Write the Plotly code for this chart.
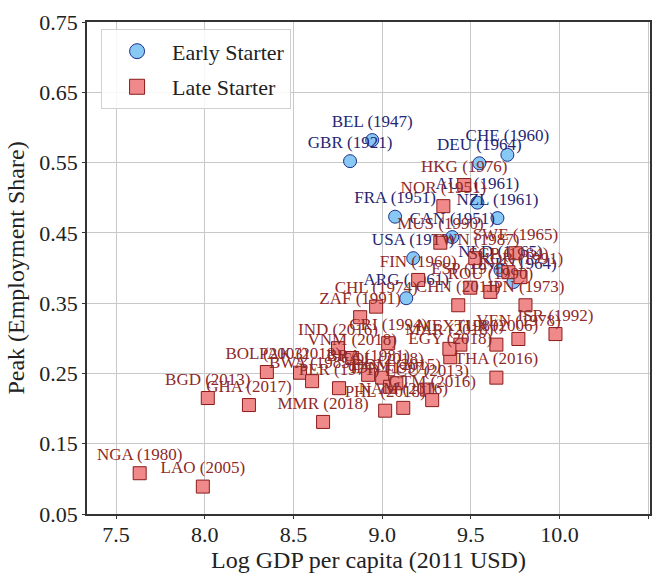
import plotly.graph_objects as go

# Early starters (blue circles)
early_labels = ["BEL (1947)", "GBR (1921)", "CHE (1960)", "DEU (1964)", "AUS (1961)", "NZL (1961)",
                "FRA (1951)", "CAN (1951)", "USA (1910)", "ARG (1961)", "NLD (1965)", "DNK (1964)"]
early_x = [8.944, 8.819, 9.706, 9.548, 9.537, 9.650, 9.073, 9.395, 9.175, 9.136, 9.667, 9.740]
early_y = [0.582, 0.552, 0.561, 0.549, 0.493, 0.471, 0.473, 0.444, 0.414, 0.357, 0.397, 0.380]

# Late starters (red squares)
late_labels = ["HKG (1976)", "NOR (1951)", "MUS (1990)", "TWN (1987)", "SWE (1965)", "SGP (1984)",
               "KOR (1991)", "FIN (1960)", "ESP (1975)", "ROU (1990)", "CHN (2011)", "JPN (1973)",
               "CHL (1974)", "ZAF (1991)", "CRI (1994)", "IND (2016)", "VNM (2018)", "MEX (1980)",
               "EGY (2018)", "MAR (2018)", "TUR (2006)", "VEN (1978)", "ISR (1992)", "THA (2016)",
               "BOL (2003)", "PAK (2018)", "BWA (1985)", "PER (1971)", "BRA (1981)", "COL (2018)",
               "IDN (1997)", "DOM (2015)", "ECU (2013)", "GTM (2016)", "PHL (2018)", "NAM (2016)",
               "MMR (2018)", "BGD (2013)", "GHA (2017)", "NGA (1980)", "LAO (2005)"]
late_x = [9.463, 9.345, 9.328, 9.525, 9.751, 9.712, 9.780, 9.203, 9.497, 9.610, 9.429, 9.808,
          8.966, 8.876, 9.034, 8.751, 8.831, 9.441, 9.384, 9.379, 9.644, 9.768, 9.977, 9.644,
          8.350, 8.537, 8.605, 8.757, 8.921, 9.000, 9.045, 9.080, 9.254, 9.282, 9.017, 9.119,
          8.667, 8.017, 8.249, 7.633, 7.989]
late_y = [0.518, 0.488, 0.436, 0.414, 0.421, 0.394, 0.387, 0.383, 0.372, 0.366, 0.347, 0.347,
          0.345, 0.330, 0.293, 0.286, 0.272, 0.291, 0.273, 0.285, 0.291, 0.299, 0.306, 0.244,
          0.252, 0.251, 0.239, 0.229, 0.248, 0.244, 0.231, 0.236, 0.227, 0.212, 0.197, 0.201,
          0.181, 0.215, 0.205, 0.108, 0.089]

x_ticks = [7.5, 8.0, 8.5, 9.0, 9.5, 10.0, 10.5]
y_ticks = [0.05, 0.15, 0.25, 0.35, 0.45, 0.55, 0.65, 0.75]

FONT = "'Liberation Serif', 'Times New Roman', 'DejaVu Serif', serif"
BLUE_FILL, BLUE_EDGE, BLUE_TXT = "#87c8f5", "#1c2f8a", "#262673"
RED_FILL, RED_EDGE, RED_TXT = "#f08a8a", "#8b1a1a", "#8e2a2a"

fig = go.Figure()

fig.add_trace(go.Scatter(
    x=early_x, y=early_y, mode="markers+text", text=early_labels,
    textposition="top center", textfont=dict(family=FONT, size=17, color=BLUE_TXT),
    marker=dict(symbol="circle", size=13, color=BLUE_FILL, line=dict(color=BLUE_EDGE, width=1)),
    showlegend=False, cliponaxis=False))
fig.add_trace(go.Scatter(
    x=late_x, y=late_y, mode="markers+text", text=late_labels,
    textposition="top center", textfont=dict(family=FONT, size=17, color=RED_TXT),
    marker=dict(symbol="square", size=13, color=RED_FILL, line=dict(color=RED_EDGE, width=1)),
    showlegend=False, cliponaxis=False))

# legend entries
fig.add_trace(go.Scatter(x=[None], y=[None], mode="markers", name="Early Starter", legendgroup="e",
                         marker=dict(symbol="circle", size=15, color=BLUE_FILL,
                                     line=dict(color=BLUE_EDGE, width=1))))
fig.add_trace(go.Scatter(x=[None], y=[None], mode="markers", name="Late Starter", legendgroup="l",
                         marker=dict(symbol="square", size=15, color=RED_FILL,
                                     line=dict(color=RED_EDGE, width=1))))

axis_common = dict(showgrid=True, gridcolor="#c8c8c8", gridwidth=1, showline=True, mirror=True,
                   linecolor="#333333", linewidth=1.5, ticks="outside", ticklen=3,
                   tickcolor="#333333", zeroline=False, automargin=False,
                   tickfont=dict(family=FONT, size=22, color="#222222"))

fig.update_xaxes(range=[7.336, 10.51], tickvals=x_ticks, ticktext=[f"{v:.1f}" for v in x_ticks],
                 ticklabelstandoff=-3,
                 title=dict(text="Log GDP per capita (2011 USD)", font=dict(family=FONT, size=24, color="#222222"),
                            standoff=0), **axis_common)
fig.update_yaxes(range=[0.05, 0.75], tickvals=y_ticks, ticktext=[f"{v:.2f}" for v in y_ticks],
                 title=dict(text="Peak (Employment Share)", font=dict(family=FONT, size=24, color="#222222"),
                            standoff=8), **axis_common)

fig.update_layout(
    width=663, height=578,
    margin=dict(l=87, r=13, t=22, b=64),
    plot_bgcolor="white", paper_bgcolor="white",
    legend=dict(x=0.025, y=0.985, xanchor="left", yanchor="top",
                bgcolor="rgba(255,255,255,0.85)", bordercolor="#d0d0d0", borderwidth=1,
                font=dict(family=FONT, size=22, color="#222222"),
                itemwidth=60, tracegroupgap=4),
)

fig.write_html("out.html")
